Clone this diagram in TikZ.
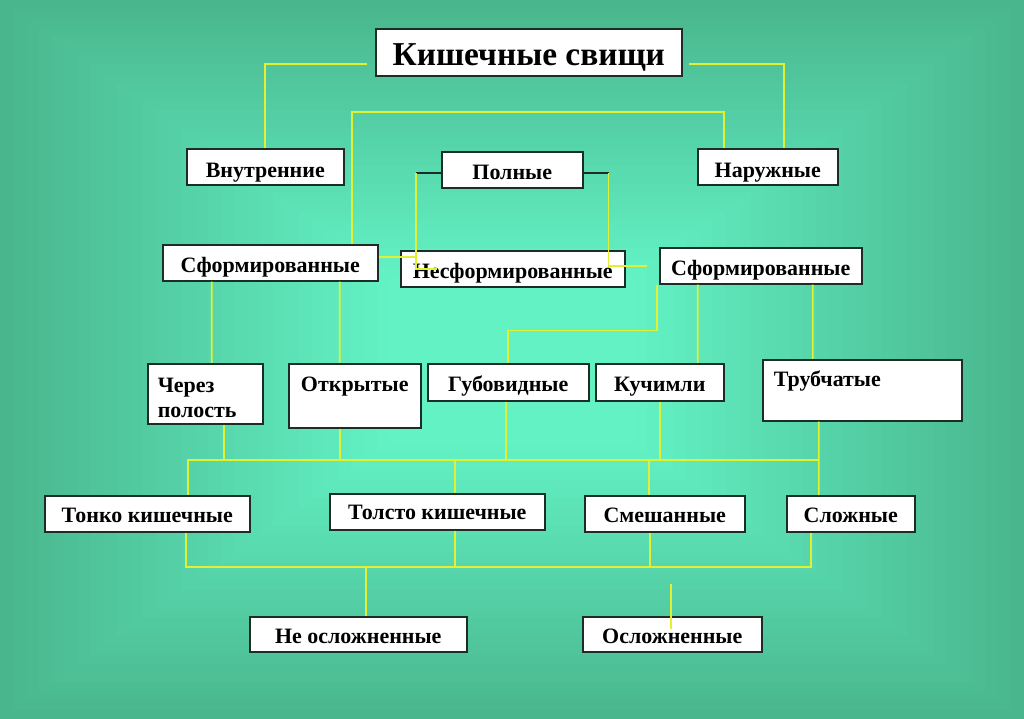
\documentclass[tikz,border=0pt]{standalone}
\usepackage{fontspec}
\setmainfont{Liberation Serif}
\definecolor{bgout}{RGB}{74,182,142}
\definecolor{bgin}{RGB}{98,242,196}
\definecolor{linkyellow}{RGB}{226,240,52}
\definecolor{boxline}{RGB}{28,44,38}

\begin{document}
\begin{tikzpicture}[x=0.02cm,y=-0.02cm]
    \tikzset{BoxStyle/.style = {draw=boxline, line width=0.9pt, fill=white, rectangle, anchor=north west, inner sep=0pt, font=\bfseries\fontsize{12.5}{14.2}\selectfont}}
    \tikzset{LinkStyle/.style = {draw=linkyellow, line width=1pt}}
    \tikzset{StubStyle/.style = {draw=boxline, line width=1pt}}
    \useasboundingbox (0,0) rectangle (1024,719);
    \foreach \i in {0,...,36} {
        \pgfmathtruncatemacro\p{min(100,\i*3.4)}
        \fill[bgin!\p!bgout] (\i*13,\i*9.2) rectangle (1024-\i*13,719-\i*9.2);
    }
    \node[BoxStyle, minimum width=6.12cm, text height=0.74cm, text depth=0.2cm, font=\bfseries\fontsize{19}{22}\selectfont] (title) at (375,28) {Кишечные свищи};
    \node[BoxStyle, minimum width=3.14cm, text height=0.58cm, text depth=0.14cm] (inner) at (186,148) {Внутренние};
    \node[BoxStyle, minimum width=2.82cm, text height=0.56cm, text depth=0.16cm] (full) at (441,151) {Полные};
    \node[BoxStyle, minimum width=2.8cm, text height=0.58cm, text depth=0.14cm] (outer) at (697,148) {Наружные};
    \node[BoxStyle, minimum width=4.3cm, text height=0.56cm, text depth=0.16cm] (formL) at (162,244) {Сформированные};
    \node[BoxStyle, minimum width=4.48cm, text height=0.56cm, text depth=0.16cm] (unform) at (400,250) {Несформированные};
    \node[BoxStyle, minimum width=4.04cm, text height=0.56cm, text depth=0.16cm] (formR) at (659,247) {Сформированные};
    \node[BoxStyle, inner xsep=0.2cm, text width=1.9cm, align=left, text height=0.58cm, text depth=0.62cm] (through) at (147,363) {Через\\полость};
    \node[BoxStyle, minimum width=2.64cm, text height=0.56cm, text depth=0.72cm] (open) at (288,363) {Открытые};
    \node[BoxStyle, minimum width=3.22cm, text height=0.56cm, text depth=0.18cm] (lip) at (427,363) {Губовидные};
    \node[BoxStyle, minimum width=2.56cm, text height=0.56cm, text depth=0.18cm] (kuch) at (595,363) {Кучимли};
    \node[BoxStyle, inner xsep=0.22cm, text width=3.54cm, align=left, text height=0.54cm, text depth=0.68cm] (tube) at (762,359) {Трубчатые};
    \node[BoxStyle, minimum width=4.1cm, text height=0.54cm, text depth=0.18cm] (thin) at (44,495) {Тонко кишечные};
    \node[BoxStyle, minimum width=4.3cm, text height=0.52cm, text depth=0.2cm] (thick) at (329,493) {Толсто кишечные};
    \node[BoxStyle, minimum width=3.2cm, text height=0.54cm, text depth=0.18cm] (mixed) at (584,495) {Смешанные};
    \node[BoxStyle, minimum width=2.56cm, text height=0.54cm, text depth=0.18cm] (complex) at (786,495) {Сложные};
    \node[BoxStyle, minimum width=4.34cm, text height=0.54cm, text depth=0.16cm] (uncompl) at (249,616) {Не осложненные};
    \node[BoxStyle, minimum width=3.58cm, text height=0.54cm, text depth=0.16cm] (compl) at (582,616) {Осложненные};
    \coordinate (tl) at (367,64);
    \coordinate (tr) at (689,64);
    \coordinate (upbus) at (818,460);
    \coordinate (lowbus) at (812,567);
    \coordinate (cs) at (671,584);
    \coordinate (ce) at (671,629);
    \draw[LinkStyle] (tl) -| (inner.north);
    \draw[LinkStyle] (tr) -| ([xshift=0.32cm]outer.north);
    \draw[LinkStyle] ([xshift=1.63cm]formL.north) -- ++(0,-132) -| ([xshift=-0.88cm]outer.north);
    \draw[StubStyle] ([yshift=-0.06cm]full.west) -- ++(-25,0) coordinate (fl);
    \draw[StubStyle] ([yshift=-0.06cm]full.east) -- ++(25,0) coordinate (fr);
    \draw[LinkStyle] ([yshift=0.12cm]formL.east) -| (fl);
    \draw[LinkStyle] (fl) |- ([xshift=0.74cm]unform.west);
    \draw[LinkStyle] (fr) |- ([xshift=-0.24cm]formR.west);
    \draw[LinkStyle] ([xshift=-0.04cm]formR.south west) -- ++(0,46) -| (lip.north);
    \draw[LinkStyle] ([xshift=-1.26cm]formR.south) -- ([xshift=0.76cm]kuch.north);
    \draw[LinkStyle] ([xshift=1.04cm]formR.south) -- ([xshift=-0.99cm]tube.north);
    \draw[LinkStyle] ([xshift=-1.17cm]formL.south) -- ([xshift=0.13cm]through.north);
    \draw[LinkStyle] ([xshift=1.39cm]formL.south) -- ([xshift=-0.3cm]open.north);
    \draw[LinkStyle] ([xshift=0.38cm]through.south) |- (upbus);
    \draw[LinkStyle] ([xshift=-0.3cm]open.south) |- (upbus);
    \draw[LinkStyle] ([xshift=-0.05cm]lip.south) |- (upbus);
    \draw[LinkStyle] (kuch.south) |- (upbus);
    \draw[LinkStyle] ([xshift=-0.87cm]tube.south) -- ([xshift=-0.64cm]complex.north);
    \draw[LinkStyle] (upbus) -| ([xshift=0.81cm]thin.north);
    \draw[LinkStyle] (upbus) -| ([xshift=0.35cm]thick.north);
    \draw[LinkStyle] (upbus) -| ([xshift=-0.32cm]mixed.north);
    \draw[LinkStyle] ([xshift=0.77cm]thin.south) |- (lowbus);
    \draw[LinkStyle] ([xshift=0.35cm]thick.south) |- (lowbus);
    \draw[LinkStyle] ([xshift=-0.3cm]mixed.south) |- (lowbus);
    \draw[LinkStyle] ([xshift=-0.8cm]complex.south) |- (lowbus);
    \draw[LinkStyle] (lowbus) -| ([xshift=0.15cm]uncompl.north);
    \draw[LinkStyle] (cs) -- (ce);
\end{tikzpicture}
\end{document}
